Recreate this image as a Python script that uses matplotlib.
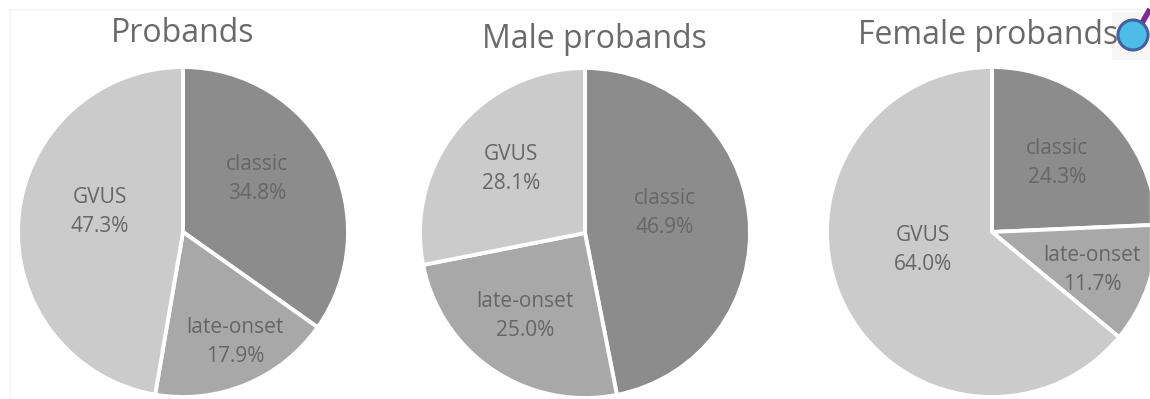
import matplotlib

matplotlib.use("Agg")
import matplotlib.pyplot as plt
from matplotlib.patches import Circle, Rectangle

plt.rcParams["font.family"] = ["Open Sans", "DejaVu Sans"]

W, H = 1150, 399
RADIUS = 165
EDGE = "white"
TEXT = "#666666"

categories = ["classic", "late-onset", "GVUS"]
colors = ["#8c8c8c", "#a8a8a8", "#cbcbcb"]
titles = ["Probands", "Male probands", "Female probands"]
probands = [34.8, 17.9, 47.3]
male_probands = [46.9, 25.0, 28.1]
female_probands = [24.3, 11.7, 64.0]

centers = [(183, 232), (585, 233), (992, 232)]
title_pos = [(183, 33), (594, 39), (988, 35)]
label_pos = [
    [(257, 179), (235, 342), (100, 212)],
    [(665, 213), (525, 316), (511, 169)],
    [(1057, 163), (1092, 270), (923, 250)],
]

fig = plt.figure(figsize=(W / 100, H / 100), dpi=100, facecolor="white")


def px_text(x, y, s, **kw):
    fig.text(x / W, 1 - y / H, s, ha="center", va="center", **kw)


def draw_pie(values, center, title, tpos, lpos):
    cx, cy = center
    ax = fig.add_axes([(cx - RADIUS) / W, 1 - (cy + RADIUS) / H, 2 * RADIUS / W, 2 * RADIUS / H])
    ax.pie(values, colors=colors, startangle=90, counterclock=False, radius=1,
           wedgeprops={"edgecolor": EDGE, "linewidth": 2.8})
    ax.set_xlim(-1, 1)
    ax.set_ylim(-1, 1)
    ax.set_aspect("equal")
    px_text(tpos[0], tpos[1], title, fontsize=23, color="#6a6a6a")
    for name, v, (x, y) in zip(categories, values, lpos):
        px_text(x, y, f"{name}\n{v:.1f}%", fontsize=15, color=TEXT, linespacing=1.55)


# faint frame around the panel
fig.add_artist(Rectangle((10 / W, 0), 1 - 10 / W, 1 - 9 / H, transform=fig.transFigure,
                         fill=False, edgecolor="#f3f3f3", linewidth=1))
# pale backing behind the corner marker
fig.add_artist(Rectangle((1112 / W, 1 - 60 / H), 38 / W, 48 / H, transform=fig.transFigure,
                         facecolor="#f8f5f5", edgecolor="none", zorder=1))

for vals, c, t, tp, lp in zip([probands, male_probands, female_probands],
                              centers, titles, title_pos, label_pos):
    draw_pie(vals, c, t, tp, lp)

# small marker in the top right corner, above the title text
overlay = fig.add_axes([0, 0, 1, 1], facecolor="none", zorder=5)
overlay.set_xlim(0, W)
overlay.set_ylim(H, 0)
overlay.axis("off")
overlay.plot([1142, 1150], [23, 9], color="#7b2d8b", linewidth=4, solid_capstyle="butt", zorder=2)
overlay.add_patch(Circle((1133, 35), 15, facecolor="#4dbde8", edgecolor="#45609f", linewidth=2.2, zorder=3))

fig.savefig("out.png", dpi=100)
